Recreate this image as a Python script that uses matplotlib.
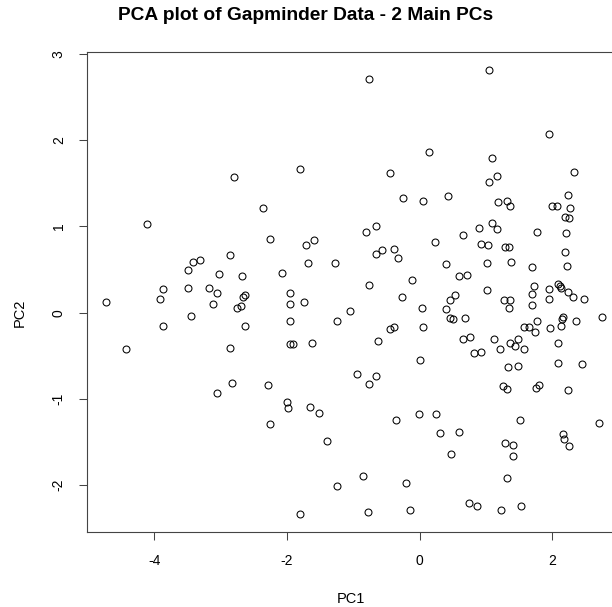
import matplotlib
matplotlib.use("Agg")
import matplotlib.pyplot as plt

plt.rcParams['font.family'] = ['Liberation Sans', 'DejaVu Sans']

# PC scores
pc1 = [
    -2.80, -2.36, -4.11, -2.86, -3.31, -3.41, -3.49, -3.02, -2.68, -3.87,
    -3.50, -3.18, -3.06, -4.73, -3.91, -3.11, -2.66, -2.64, -2.70, -2.75,
    -2.63, -3.87, -3.45, -4.43, -2.86, -2.83, -3.06, -2.29,
    -0.76, 0.14, -1.80, -0.44, -0.25, 0.05, -0.66, -0.81, -2.26, -1.60,
    -1.72, 0.23, -0.57, -0.66, -0.38, -0.32, -1.68, -1.28, -2.08, -0.12,
    -0.76, -1.96, -1.96, -1.74, -0.27, 0.03, -1.05, -1.96, -1.25, -0.44,
    -0.39, 0.05, -0.63, -1.96, -1.91, -1.62, 0.00, -0.95, -0.66, -0.77,
    -2.00, -1.98, -1.66, -1.52, -0.35, -0.01, 0.24, 0.31, -2.25, -1.39,
    -0.85, -1.25, -0.20, -1.80, -0.78, -0.15,
    1.04, 1.95, 1.09, 1.17, 1.04, 2.32, 0.42, 2.23, 1.18, 1.31,
    1.36, 2.00, 2.07, 2.26, 2.19, 2.25, 1.09, 1.17, 0.89, 0.65,
    1.77, 2.21, 0.93, 1.03, 1.29, 1.34, 2.19, 0.40, 1.01, 1.38,
    1.69, 2.22, 0.59, 0.72, 1.73, 1.95, 2.08, 2.11, 2.13, 1.02,
    2.23, 2.31, 2.48, 1.95, 1.69, 1.69, 0.53, 0.46, 1.27, 1.36,
    1.35, 0.39, 0.46, 0.51, 0.69, 2.75, 2.16, 2.15, 1.77, 2.36,
    1.57, 1.65, 1.74, 1.96, 2.13, 0.66, 0.76, 1.12, 1.36, 1.43,
    1.49, 2.09, 1.21, 1.57, 0.82, 0.92, 2.09, 2.44, 1.33, 1.48,
    1.25, 1.31, 1.75, 1.80, 2.23, 0.60, 1.51, 2.70, 2.16, 2.17,
    2.25, 1.28, 1.40, 1.40, 0.47, 1.31, 0.75, 0.86, 1.22, 1.53,
]
pc2 = [
    1.57, 1.22, 1.03, 0.67, 0.61, 0.59, 0.50, 0.45, 0.43, 0.28,
    0.29, 0.29, 0.23, 0.12, 0.16, 0.10, 0.18, 0.20, 0.08, 0.05,
    -0.16, -0.15, -0.04, -0.42, -0.41, -0.82, -0.93, -0.84,
    2.71, 1.86, 1.67, 1.62, 1.33, 1.30, 1.01, 0.94, 0.85, 0.84,
    0.78, 0.82, 0.73, 0.68, 0.74, 0.63, 0.58, 0.58, 0.46, 0.38,
    0.32, 0.23, 0.10, 0.12, 0.18, 0.06, 0.02, -0.10, -0.10, -0.19,
    -0.17, -0.17, -0.33, -0.36, -0.36, -0.35, -0.55, -0.71, -0.74, -0.83,
    -1.03, -1.10, -1.09, -1.16, -1.24, -1.17, -1.18, -1.40, -1.29, -1.49,
    -1.89, -2.01, -1.98, -2.34, -2.31, -2.29,
    2.81, 2.07, 1.79, 1.59, 1.52, 1.63, 1.35, 1.37, 1.28, 1.29,
    1.24, 1.24, 1.24, 1.22, 1.11, 1.10, 1.04, 0.97, 0.98, 0.90,
    0.94, 0.93, 0.80, 0.78, 0.76, 0.76, 0.70, 0.56, 0.58, 0.59,
    0.53, 0.54, 0.43, 0.44, 0.31, 0.27, 0.33, 0.31, 0.29, 0.26,
    0.24, 0.18, 0.16, 0.16, 0.22, 0.09, 0.21, 0.15, 0.15, 0.15,
    0.05, 0.04, -0.06, -0.07, -0.06, -0.05, -0.05, -0.07, -0.10, -0.10,
    -0.17, -0.17, -0.22, -0.18, -0.15, -0.30, -0.28, -0.30, -0.35, -0.39,
    -0.31, -0.35, -0.42, -0.42, -0.47, -0.46, -0.58, -0.59, -0.63, -0.62,
    -0.85, -0.89, -0.87, -0.84, -0.90, -1.38, -1.25, -1.28, -1.41, -1.46,
    -1.55, -1.51, -1.54, -1.66, -1.64, -1.92, -2.21, -2.24, -2.29, -2.24,
]

x_ticks = [-4, -2, 0, 2]
y_ticks = [-2, -1, 0, 1, 2, 3]

fig = plt.figure(figsize=(6.12, 6.07), dpi=100)
ax = fig.add_axes([86.7 / 612, 75.3 / 607, (616 - 86.7) / 612, 479.4 / 607])

ax.plot(pc1, pc2, linestyle='none', marker='o', markersize=5.0,
        markerfacecolor='none', markeredgecolor='black', markeredgewidth=0.75)

ax.set_xlim(-5.02, 2.96)
ax.set_ylim(-2.54, 3.02)
ax.set_xticks(x_ticks)
ax.set_yticks(y_ticks)
ax.set_xticklabels([str(t) for t in x_ticks])
ax.set_yticklabels([str(t) for t in y_ticks], rotation=90, va='center')
ax.tick_params(axis='both', direction='out', length=6, width=0.75,
               labelsize=10, color='#444444')
ax.tick_params(axis='x', pad=10)
ax.tick_params(axis='y', pad=9)
for s in ax.spines.values():
    s.set_linewidth(0.8)
    s.set_color('#444444')

ax.set_xlabel('PC1', fontsize=10.5, va='center')
ax.xaxis.set_label_coords(0.5, -0.140)
ax.set_ylabel('PC2', fontsize=10.5, va='center')
ax.yaxis.set_label_coords(-0.126, 0.456)

fig.text(0.5, 1 - 16 / 607, 'PCA plot of Gapminder Data - 2 Main PCs',
         ha='center', va='center', fontsize=13.8, fontweight='bold')

fig.savefig('out.png', dpi=100)
